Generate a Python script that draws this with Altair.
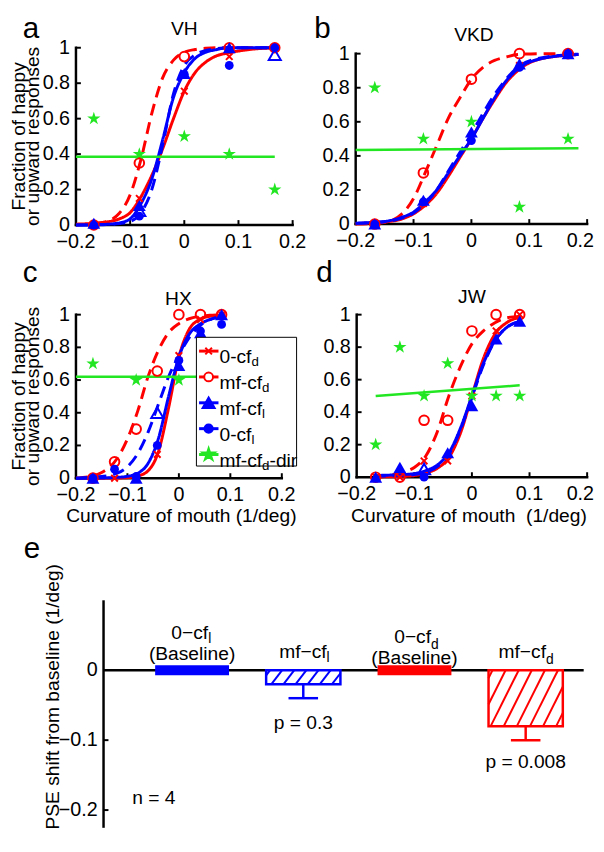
import altair as alt
import pandas as pd

FONT = "Liberation Sans"
RED = "#ff0000"
BLUE = "#0000ff"
GREEN = "#22e622"
BLACK = "#000000"

X_TICKS = [-0.2, -0.1, 0.0, 0.1, 0.2]
Y_TICKS = [0.0, 0.2, 0.4, 0.6, 0.8, 1.0]
E_Y_TICKS = [0.0, -0.1, -0.2]

# ---------------- panel a : VH ----------------
A_CURVE_X = [-0.2, -0.15, -0.12, -0.1, -0.08, -0.06, -0.04, -0.02, 0.0, 0.02, 0.04, 0.06, 0.08, 0.12, 0.17]
A_RED_SOLID = [0.005, 0.015, 0.035, 0.07, 0.16, 0.28, 0.43, 0.6, 0.755, 0.86, 0.92, 0.955, 0.97, 0.99, 1.0]
A_RED_DASH = [0.0, 0.015, 0.067, 0.17, 0.37, 0.63, 0.83, 0.93, 0.975, 0.99, 0.997, 1.0, 1.0, 1.0, 1.0]
A_BLUE_SOLID = [0.0, 0.003, 0.012, 0.035, 0.12, 0.26, 0.48, 0.72, 0.86, 0.94, 0.975, 0.99, 1.0, 1.0, 1.0]
A_BLUE_DASH = [0.0, 0.002, 0.008, 0.02, 0.07, 0.2, 0.45, 0.74, 0.9, 0.96, 0.985, 0.995, 1.0, 1.0, 1.0]
A_PT_X = [-0.167, -0.083, 0.0, 0.083, 0.167]
A_RED_X = [0.0, 0.15, 0.755, 0.95, 1.0]
A_RED_O = [0.0, 0.35, 0.95, 1.0, 1.0]
A_BLUE_TRI = [0.01, 0.11, 0.855, 1.0, None]
A_BLUE_DOT = [0.0, 0.05, 0.85, 0.9, 1.0]
A_STAR = [0.6, 0.4, 0.5, 0.4, 0.2]
A_OPEN_TRI_X = [-0.083, 0.167]
A_OPEN_TRI_Y = [0.08, 0.96]
A_GREEN_X = [-0.2, 0.167]
A_GREEN_Y = [0.385, 0.385]

# ---------------- panel b : VKD ----------------
B_CURVE_X = [-0.2, -0.17, -0.15, -0.12, -0.1, -0.08, -0.06, -0.04, -0.02, 0.0, 0.02, 0.04, 0.06, 0.08, 0.12, 0.185]
B_RED_SOLID = [0.003, 0.007, 0.012, 0.03, 0.06, 0.11, 0.18, 0.28, 0.39, 0.5, 0.62, 0.73, 0.83, 0.9, 0.97, 0.995]
B_RED_DASH = [0.0, 0.003, 0.01, 0.06, 0.15, 0.3, 0.46, 0.62, 0.74, 0.85, 0.92, 0.96, 0.98, 0.995, 1.0, 1.0]
B_BLUE_SOLID = [0.005, 0.01, 0.015, 0.04, 0.07, 0.13, 0.2, 0.3, 0.4, 0.5, 0.62, 0.74, 0.84, 0.91, 0.97, 0.995]
B_BLUE_DASH = [0.004, 0.008, 0.013, 0.035, 0.065, 0.12, 0.2, 0.31, 0.42, 0.53, 0.65, 0.76, 0.85, 0.92, 0.975, 0.997]
B_PT_X = [-0.167, -0.083, 0.0, 0.083, 0.167]
B_RED_X = [0.0, 0.12, 0.5, 0.93, 1.0]
B_RED_O = [0.0, 0.3, 0.85, 1.0, 1.0]
B_BLUE_TRI = [0.0, 0.14, 0.54, 0.94, 1.0]
B_BLUE_DOT = [0.0, 0.13, 0.49, 0.92, 1.0]
B_STAR = [0.8, 0.5, 0.6, 0.1, 0.5]
B_OPEN_TRI_X = []
B_OPEN_TRI_Y = []
B_GREEN_X = [-0.2, 0.185]
B_GREEN_Y = [0.434, 0.445]

# ---------------- panel c : HX ----------------
C_CURVE_X = [-0.2, -0.17, -0.15, -0.12, -0.1, -0.08, -0.06, -0.04, -0.02, 0.0, 0.02, 0.04, 0.06, 0.09]
C_RED_SOLID = [0.0, 0.0, 0.0, 0.001, 0.003, 0.013, 0.045, 0.16, 0.43, 0.74, 0.91, 0.97, 0.99, 1.0]
C_RED_DASH = [0.0, 0.012, 0.035, 0.12, 0.24, 0.41, 0.62, 0.78, 0.89, 0.945, 0.975, 0.99, 0.996, 1.0]
C_BLUE_SOLID = [0.0, 0.0, 0.001, 0.005, 0.011, 0.03, 0.09, 0.24, 0.5, 0.74, 0.88, 0.94, 0.97, 0.99]
C_BLUE_DASH = [0.0, 0.005, 0.01, 0.03, 0.07, 0.15, 0.28, 0.45, 0.62, 0.75, 0.86, 0.93, 0.97, 0.99]
C_PT_X = [-0.167, -0.125, -0.083, -0.042, 0.0, 0.042, 0.083]
C_RED_X = [0.0, 0.0, 0.0, 0.145, 0.75, 0.97, 1.0]
C_RED_O = [0.0, 0.1, 0.3, 0.655, 1.0, 1.0, 1.0]
C_BLUE_TRI = [0.0, None, 0.0, None, 0.69, 0.89, 1.0]
C_BLUE_DOT = [0.0, 0.055, 0.01, 0.2, 0.72, 0.9, 0.94]
C_STAR = [0.7, None, 0.6, None, 0.6, None, None]
C_OPEN_TRI_X = [-0.042]
C_OPEN_TRI_Y = [0.4]
C_GREEN_X = [-0.2, 0.083]
C_GREEN_Y = [0.62, 0.62]

# ---------------- panel d : JW ----------------
D_CURVE_X = [-0.17, -0.15, -0.12, -0.1, -0.08, -0.06, -0.04, -0.02, 0.0, 0.02, 0.04, 0.06, 0.085]
D_RED_SOLID = [0.0, 0.002, 0.005, 0.01, 0.025, 0.055, 0.12, 0.27, 0.5, 0.73, 0.88, 0.95, 0.985]
D_RED_DASH = [0.0, 0.008, 0.03, 0.06, 0.13, 0.28, 0.5, 0.68, 0.82, 0.9, 0.95, 0.98, 0.99]
D_BLUE_SOLID = [0.01, 0.012, 0.016, 0.022, 0.04, 0.075, 0.15, 0.3, 0.5, 0.7, 0.84, 0.92, 0.96]
D_BLUE_DASH = [0.005, 0.007, 0.01, 0.016, 0.03, 0.065, 0.14, 0.29, 0.49, 0.69, 0.84, 0.92, 0.96]
D_PT_X = [-0.167, -0.125, -0.083, -0.042, 0.0, 0.042, 0.083]
D_RED_X = [0.0, 0.0, 0.1, 0.1, 0.5, 0.9, 1.0]
D_RED_O = [0.0, 0.0, 0.35, 0.35, 0.9, 1.0, 1.0]
D_BLUE_TRI = [0.0, 0.06, None, 0.15, 0.44, 0.85, 0.96]
D_BLUE_DOT = [None, None, 0.0, None, None, None, None]
D_STAR = [0.2, 0.8, 0.5, 0.7, 0.5, 0.5, 0.5]
D_OPEN_TRI_X = [-0.083]
D_OPEN_TRI_Y = [0.05]
D_GREEN_X = [-0.167, 0.083]
D_GREEN_Y = [0.5, 0.565]

# ---------------- legend (panel c) ----------------
LEG_MAIN = ["0-cf", "mf-cf", "mf-cf", "0-cf", "mf-cf"]
LEG_SUB = ["d", "d", "l", "l", "d"]
LEG_SUFFIX = ["", "", "", "", "-dir"]

# ---------------- panel e ----------------
E_IDX = [1, 2, 3, 4]
E_MAIN = ["0\u2212cf", "mf\u2212cf", "0\u2212cf", "mf\u2212cf"]
E_SUB = ["l", "l", "d", "d"]
E_MEAN = [0.0, -0.02, 0.0, -0.08]
E_ERR = [0.0, 0.02, 0.0, 0.02]
E_P = ["", "p = 0.3", "", "p = 0.008"]
E_BASELINE = [True, False, True, False]
E_COLOR = [BLUE, BLUE, RED, RED]
N_TEXT = "n = 4"

# ---------------- styles / layout ----------------
VW, VH = 596, 830          # one shared canvas; every panel has its own scales on it
STAR_PATH = ("M0,-1L0.223,-0.307L0.951,-0.309L0.361,0.117L0.588,0.809L0,0.38"
             "L-0.588,0.809L-0.361,0.117L-0.951,-0.309L-0.223,-0.307Z")
X_PATH = "M-1,-1L1,1M-1,1L1,-1"
SERIES = ["0-cf_d", "mf-cf_d", "mf-cf_l", "0-cf_l"]
SERIES_COLORS = [RED, RED, BLUE, BLUE]
SERIES_DASH = [[1, 0], [12, 7], [12, 7], [1, 0]]
LEG_COLOR = [RED, RED, BLUE, BLUE, GREEN]
LEG_SHAPE = [X_PATH, "circle", "triangle-up", "circle", STAR_PATH]
LEG_FILL = ["transparent", "white", BLUE, BLUE, GREEN]
LEG_SIZE = [45, 80, 150, 70, 170]


def single():
    return pd.DataFrame({"k": [0]})


def fmt(v):
    return f"{v:g}".replace("-", "\u2212")


def text_layer(text, x, y, size=19.5, align="center", angle=0, baseline="alphabetic"):
    return alt.Chart(single()).mark_text(
        text=text, font=FONT, fontSize=size, align=align, baseline=baseline, color=BLACK, angle=angle
    ).encode(x=alt.value(x), y=alt.value(y))


def make_panel(cfg):
    px0, px1, py0, py1 = cfg["px0"], cfg["px1"], cfg["py0"], cfg["py1"]
    kx = 0.4 / (px1 - px0)
    ky = 1.0 / (py0 - py1)

    def xv(p):
        return -0.2 + (p - px0) * kx

    def yv(p):
        return (py0 - p) * ky

    xs = alt.Scale(domain=[xv(0), xv(VW)], nice=False, zero=False)
    ys = alt.Scale(domain=[yv(VH), yv(0)], nice=False, zero=False)

    def X(f="x"):
        return alt.X(f"{f}:Q", scale=xs, axis=None, title=None)

    def Y(f="y"):
        return alt.Y(f"{f}:Q", scale=ys, axis=None, title=None)

    def XD(v):
        return alt.X(datum=v, scale=xs, axis=None, title=None)

    def YD(v):
        return alt.Y(datum=v, scale=ys, axis=None, title=None)

    layers = []
    # axes (MATLAB style: left and bottom lines, inward ticks)
    layers.append(alt.Chart(single()).mark_rule(color=BLACK, strokeWidth=2.5, strokeCap="square")
                  .encode(x=XD(-0.2), x2=alt.X2(datum=0.2), y=YD(0.0)))
    layers.append(alt.Chart(single()).mark_rule(color=BLACK, strokeWidth=2.5, strokeCap="square")
                  .encode(x=XD(-0.2), y=YD(0.0), y2=alt.Y2(datum=1.0)))
    layers.append(alt.Chart(pd.DataFrame({"x": X_TICKS[1:]})).mark_rule(color=BLACK, strokeWidth=2)
                  .encode(x=X(), y=YD(0.0), y2=alt.Y2(datum=5 * ky)))
    layers.append(alt.Chart(pd.DataFrame({"y": Y_TICKS[1:]})).mark_rule(color=BLACK, strokeWidth=2)
                  .encode(y=Y(), x=XD(-0.2), x2=alt.X2(datum=-0.2 + 5 * kx)))
    xl = pd.DataFrame({"x": X_TICKS, "t": [fmt(v) for v in X_TICKS]})
    if cfg["last_right"]:
        layers.append(alt.Chart(xl.iloc[:-1]).mark_text(baseline="top", dy=7, font=FONT, fontSize=20, color=BLACK)
                      .encode(x=X(), y=YD(0.0), text="t:N"))
        layers.append(alt.Chart(xl.iloc[-1:]).mark_text(baseline="top", dy=7, dx=7, align="right", font=FONT,
                                                        fontSize=20, color=BLACK)
                      .encode(x=X(), y=YD(0.0), text="t:N"))
    else:
        layers.append(alt.Chart(xl).mark_text(baseline="top", dy=7, font=FONT, fontSize=20, color=BLACK)
                      .encode(x=X(), y=YD(0.0), text="t:N"))
    yl = pd.DataFrame({"y": Y_TICKS, "t": [fmt(v) for v in Y_TICKS]})
    layers.append(alt.Chart(yl).mark_text(align="right", baseline="middle", dx=-6, font=FONT, fontSize=20,
                                          color=BLACK)
                  .encode(y=Y(), x=XD(-0.2), text="t:N"))

    # fitted curves
    rows = []
    for s, vals in zip(SERIES, [cfg["red_solid"], cfg["red_dash"], cfg["blue_dash"], cfg["blue_solid"]]):
        for xv_, yv_ in zip(cfg["curve_x"], vals):
            rows.append({"x": xv_, "y": yv_, "s": s})
    layers.append(
        alt.Chart(pd.DataFrame(rows)).mark_line(strokeWidth=3, interpolate="monotone").encode(
            x=X(), y=Y(),
            color=alt.Color("s:N", scale=alt.Scale(domain=SERIES, range=SERIES_COLORS), legend=None),
            strokeDash=alt.StrokeDash("s:N", scale=alt.Scale(domain=SERIES, range=SERIES_DASH), legend=None),
            detail="s:N",
        )
    )
    layers.append(
        alt.Chart(pd.DataFrame({"x": cfg["green_x"], "y": cfg["green_y"]}))
        .mark_line(color=GREEN, strokeWidth=2.5).encode(x=X(), y=Y())
    )

    def pts(yvals, xvals=None, **mk):
        xvals_ = xvals if xvals is not None else cfg["pt_x"]
        df = pd.DataFrame({"x": xvals_, "y": yvals}, dtype=float).dropna()
        return alt.Chart(df).mark_point(opacity=1, **mk).encode(x=X(), y=Y())

    layers.append(pts(cfg["red_x"], shape=X_PATH, filled=False, color=RED, strokeWidth=2, size=45))
    layers.append(pts(cfg["red_o"], shape="circle", filled=False, color=RED, strokeWidth=2, size=95))
    layers.append(pts(cfg["blue_dot"], shape="circle", filled=True, color=BLUE, size=80))
    layers.append(pts(cfg["blue_tri"], shape="triangle-up", filled=True, color=BLUE, size=170))
    if len(cfg["open_x"]):
        layers.append(pts(cfg["open_y"], xvals=cfg["open_x"], shape="triangle-up", filled=False,
                          color=BLUE, strokeWidth=2, size=150))
    layers.append(pts(cfg["star"], shape=STAR_PATH, filled=True, color=GREEN, size=200))

    # texts
    layers.append(text_layer(cfg["name"], *cfg["name_at"]))
    layers.append(text_layer(cfg["letter"], *cfg["letter_at"], size=30, align="left"))
    if cfg.get("ytitle"):
        cy = (py0 + py1) / 2
        layers.append(text_layer("Fraction of happy", 16, cy, angle=270))
        layers.append(text_layer("or upward responses", 30, cy, angle=270))
    if cfg.get("xtitle"):
        layers.append(text_layer(cfg["xtitle"], *cfg["xtitle_at"]))

    if cfg.get("legend"):
        lrows = []
        for i in range(5):
            ly = 342 + i * 26.25
            mw = 32.5 if LEG_MAIN[i] == "0-cf" else 43.3
            lrows.append(dict(x=xv(193), x2=xv(212.7), y=yv(ly), mx=xv(202.7), ty=yv(ly + 6.5),
                              tx=xv(213.7), sx=xv(213.7 + mw), sy=yv(ly + 11.5),
                              ux=xv(213.7 + mw + 7.5), main=LEG_MAIN[i], sub=LEG_SUB[i],
                              suf=LEG_SUFFIX[i], col=LEG_COLOR[i], shp=LEG_SHAPE[i],
                              fil=LEG_FILL[i], sz=LEG_SIZE[i]))
        ldf = pd.DataFrame(lrows)
        layers.append(alt.Chart(single()).mark_rect(fill="white", stroke=BLACK, strokeWidth=1)
                      .encode(x=alt.value(190.3), x2=alt.value(292), y=alt.value(328), y2=alt.value(458.7)))
        layers.append(alt.Chart(ldf).mark_rule(strokeWidth=3).encode(
            x=X("x"), x2=alt.X2("x2"), y=Y("y"), stroke=alt.Stroke("col:N", scale=None)))
        layers.append(alt.Chart(ldf).mark_point(opacity=1, strokeWidth=2).encode(
            x=X("mx"), y=Y("y"), shape=alt.Shape("shp:N", scale=None),
            fill=alt.Fill("fil:N", scale=None), stroke=alt.Stroke("col:N", scale=None),
            size=alt.Size("sz:Q", scale=None)))
        layers.append(alt.Chart(ldf).mark_text(align="left", font=FONT, fontSize=19.5, color=BLACK)
                      .encode(x=X("tx"), y=Y("ty"), text="main:N"))
        layers.append(alt.Chart(ldf).mark_text(align="left", font=FONT, fontSize=13.5, color=BLACK)
                      .encode(x=X("sx"), y=Y("sy"), text="sub:N"))
        layers.append(alt.Chart(ldf).mark_text(align="left", font=FONT, fontSize=19.5, color=BLACK)
                      .encode(x=X("ux"), y=Y("ty"), text="suf:N"))

    return alt.layer(*layers)


pa = make_panel(dict(px0=68, px1=288, py0=214, py1=34, last_right=False,
                     curve_x=A_CURVE_X, red_solid=A_RED_SOLID, red_dash=A_RED_DASH,
                     blue_solid=A_BLUE_SOLID, blue_dash=A_BLUE_DASH, pt_x=A_PT_X,
                     red_x=A_RED_X, red_o=A_RED_O, blue_tri=A_BLUE_TRI, blue_dot=A_BLUE_DOT,
                     star=A_STAR, open_x=A_OPEN_TRI_X, open_y=A_OPEN_TRI_Y,
                     green_x=A_GREEN_X, green_y=A_GREEN_Y,
                     name="VH", name_at=(178, 21), letter="a", letter_at=(14, 24), ytitle=True))
pb = make_panel(dict(px0=352, px1=587, py0=213, py1=40, last_right=True,
                     curve_x=B_CURVE_X, red_solid=B_RED_SOLID, red_dash=B_RED_DASH,
                     blue_solid=B_BLUE_SOLID, blue_dash=B_BLUE_DASH, pt_x=B_PT_X,
                     red_x=B_RED_X, red_o=B_RED_O, blue_tri=B_BLUE_TRI, blue_dot=B_BLUE_DOT,
                     star=B_STAR, open_x=B_OPEN_TRI_X, open_y=B_OPEN_TRI_Y,
                     green_x=B_GREEN_X, green_y=B_GREEN_Y,
                     name="VKD", name_at=(472, 27), letter="b", letter_at=(310, 24)))
pc = make_panel(dict(px0=68, px1=277, py0=471, py1=305, last_right=False,
                     curve_x=C_CURVE_X, red_solid=C_RED_SOLID, red_dash=C_RED_DASH,
                     blue_solid=C_BLUE_SOLID, blue_dash=C_BLUE_DASH, pt_x=C_PT_X,
                     red_x=C_RED_X, red_o=C_RED_O, blue_tri=C_BLUE_TRI, blue_dot=C_BLUE_DOT,
                     star=C_STAR, open_x=C_OPEN_TRI_X, open_y=C_OPEN_TRI_Y,
                     green_x=C_GREEN_X, green_y=C_GREEN_Y,
                     name="HX", name_at=(172, 295), letter="c", letter_at=(14, 272), ytitle=True,
                     xtitle="Curvature of mouth (1/deg)", xtitle_at=(175, 516), legend=True))
pd_ = make_panel(dict(px0=353, px1=587, py0=470, py1=305, last_right=True,
                      curve_x=D_CURVE_X, red_solid=D_RED_SOLID, red_dash=D_RED_DASH,
                      blue_solid=D_BLUE_SOLID, blue_dash=D_BLUE_DASH, pt_x=D_PT_X,
                      red_x=D_RED_X, red_o=D_RED_O, blue_tri=D_BLUE_TRI, blue_dot=D_BLUE_DOT,
                      star=D_STAR, open_x=D_OPEN_TRI_X, open_y=D_OPEN_TRI_Y,
                      green_x=D_GREEN_X, green_y=D_GREEN_Y,
                      name="JW", name_at=(470, 293), letter="d", letter_at=(312, 272),
                      xtitle="Curvature of mouth\u00a0 (1/deg)", xtitle_at=(467, 516)))

# ---------------- panel e ----------------
E_AXIS_PX = 96.0        # canvas column of the y axis
E_END_PX = 583.5        # right end of the zero line
E_ZERO_PY = 666.0       # canvas row of y = 0
E_BOTTOM_PY = 826.0
E_YU = 710.0            # pixels per unit of PSE shift
E_XU = 112.9            # pixels between neighbouring bars
E_C1_PX = 185.9         # canvas column of the first bar centre
HW = 0.334


def exv(p):
    return 1 + (p - E_C1_PX) / E_XU


def eyv(p):
    return (E_ZERO_PY - p) / E_YU


exs = alt.Scale(domain=[exv(0), exv(VW)], nice=False, zero=False)
eys = alt.Scale(domain=[eyv(VH), eyv(0)], nice=False, zero=False)


def EX(f="x"):
    return alt.X(f"{f}:Q", scale=exs, axis=None, title=None)


def EY(f="y"):
    return alt.Y(f"{f}:Q", scale=eys, axis=None, title=None)


def hatch_segments(center, ybot, color, slope, spacing, phase):
    Wp = 2 * HW * E_XU
    Hp = -ybot * E_YU
    segs = []
    c = phase
    while c < Wp + Hp / slope:
        ub = c - Hp / slope
        p1 = (ub, Hp) if ub >= 0 else (0.0, slope * c)
        p2 = (c, 0.0) if c <= Wp else (Wp, slope * (c - Wp))
        segs.append(dict(x=center - HW + p1[0] / E_XU, y=-p1[1] / E_YU,
                         x2=center - HW + p2[0] / E_XU, y2=-p2[1] / E_YU, c=color))
        c += spacing
    return segs


bars = pd.DataFrame({"idx": E_IDX, "mean": E_MEAN, "err": E_ERR, "c": E_COLOR, "base": E_BASELINE})
hb = bars[~bars["base"]]
rect_df = pd.DataFrame({"x": hb["idx"] - HW, "x2": hb["idx"] + HW, "y": hb["mean"], "y2": 0.0, "c": hb["c"]})
tick_df = pd.DataFrame({"x": bars[bars["base"]]["idx"], "y": bars[bars["base"]]["mean"],
                        "c": bars[bars["base"]]["c"]})
eb = bars[bars["err"] > 0]
stem_df = pd.DataFrame({"x": eb["idx"], "y": eb["mean"] - eb["err"], "y2": eb["mean"] + eb["err"], "c": eb["c"]})
cap_df = pd.concat([
    pd.DataFrame({"x": eb["idx"], "y": eb["mean"] - eb["err"], "c": eb["c"]}),
    pd.DataFrame({"x": eb["idx"], "y": eb["mean"] + eb["err"], "c": eb["c"]}),
])
hatch_rows = []
for _, r in hb.iterrows():
    if r["mean"] > -0.05:
        hatch_rows += hatch_segments(r["idx"], r["mean"], r["c"], 1.3, 12.3, 4.0)
    else:
        hatch_rows += hatch_segments(r["idx"], r["mean"], r["c"], 2.0, 13.3, 4.0)
hatch_df = pd.DataFrame(hatch_rows)

# label offsets in pixels (dx from bar centre, dy below the y = 0 line)
MAIN_DX = [16.3, 23.7, 16.8, 20.6]
MAIN_DY = [-38, -18, -34, -18]
SUB_DY = [-32, -12, -26, -10]
BASE_DY = [-16, None, -12, None]
P_DY = [None, 53.3, None, 93]


def dy2d(dy):
    return -dy / E_YU


main_df = pd.DataFrame({"x": [i + d / E_XU for i, d in zip(E_IDX, MAIN_DX)],
                        "y": [dy2d(p) for p in MAIN_DY], "t": E_MAIN})
sub_df = pd.DataFrame({"x": [i + d / E_XU for i, d in zip(E_IDX, MAIN_DX)],
                       "y": [dy2d(p) for p in SUB_DY], "t": E_SUB})
base_df = pd.DataFrame({"x": [i for i, b in zip(E_IDX, E_BASELINE) if b],
                        "y": [dy2d(p) for p, b in zip(BASE_DY, E_BASELINE) if b],
                        "t": ["(Baseline)" for b in E_BASELINE if b]})
p_df = pd.DataFrame({"x": [i for i, p in zip(E_IDX, E_P) if p],
                     "y": [dy2d(q) for q, p in zip(P_DY, E_P) if p],
                     "t": [p for p in E_P if p]})
ylab_df = pd.DataFrame({"y": E_Y_TICKS, "t": [fmt(v) for v in E_Y_TICKS]})

pe = alt.layer(
    alt.Chart(single()).mark_rule(color=BLACK, strokeWidth=2.5).encode(
        x=alt.value(E_AXIS_PX), y=alt.Y(datum=0.1, scale=eys, axis=None, title=None),
        y2=alt.Y2(datum=eyv(E_BOTTOM_PY))),
    alt.Chart(single()).mark_rule(color=BLACK, strokeWidth=2.5).encode(
        x=alt.value(E_AXIS_PX), x2=alt.value(E_END_PX), y=alt.Y(datum=0.0, scale=eys, axis=None, title=None)),
    alt.Chart(pd.DataFrame({"y": E_Y_TICKS[1:]})).mark_rule(color=BLACK, strokeWidth=2).encode(
        y=EY(), x=alt.value(E_AXIS_PX), x2=alt.value(E_AXIS_PX + 5)),
    alt.Chart(ylab_df).mark_text(align="right", baseline="middle", font=FONT, fontSize=20, color=BLACK)
    .encode(y=EY(), x=alt.value(E_AXIS_PX - 6), text="t:N"),
    alt.Chart(stem_df).mark_rule(strokeWidth=2.5).encode(
        x=EX(), y=EY(), y2=alt.Y2("y2"), color=alt.Color("c:N", scale=None)),
    alt.Chart(cap_df).mark_tick(orient="horizontal", size=30, thickness=2.5, opacity=1).encode(
        x=EX(), y=EY(), color=alt.Color("c:N", scale=None)),
    alt.Chart(rect_df).mark_rect(fill="white", strokeWidth=2.5).encode(
        x=EX(), x2=alt.X2("x2"), y=EY(), y2=alt.Y2("y2"), stroke=alt.Stroke("c:N", scale=None)),
    alt.Chart(hatch_df).mark_rule(strokeWidth=2).encode(
        x=EX(), x2=alt.X2("x2"), y=EY(), y2=alt.Y2("y2"), stroke=alt.Stroke("c:N", scale=None)),
    alt.Chart(tick_df).mark_tick(orient="horizontal", size=75, thickness=10, opacity=1).encode(
        x=EX(), y=EY(), color=alt.Color("c:N", scale=None)),
    alt.Chart(main_df).mark_text(align="right", font=FONT, fontSize=19.5, color=BLACK).encode(
        x=EX(), y=EY(), text="t:N"),
    alt.Chart(sub_df).mark_text(align="left", font=FONT, fontSize=14, color=BLACK).encode(
        x=EX(), y=EY(), text="t:N"),
    alt.Chart(base_df).mark_text(align="center", font=FONT, fontSize=19.5, color=BLACK).encode(
        x=EX(), y=EY(), text="t:N"),
    alt.Chart(p_df).mark_text(align="center", font=FONT, fontSize=19.5, color=BLACK).encode(
        x=EX(), y=EY(), text="t:N"),
    text_layer(N_TEXT, 147, 802),
    text_layer("e", 15, 552, size=30, align="left"),
    text_layer("PSE shift from baseline (1/deg)", 50.5, 693, angle=270),
)

chart = (
    alt.layer(pa, pb, pc, pd_, pe)
    .resolve_scale(x="independent", y="independent")
    .properties(width=VW, height=VH, padding=0)
    .configure_view(strokeWidth=0, stroke="transparent")
)

chart.save("out.html", embed_options={"renderer": "svg", "actions": False})
